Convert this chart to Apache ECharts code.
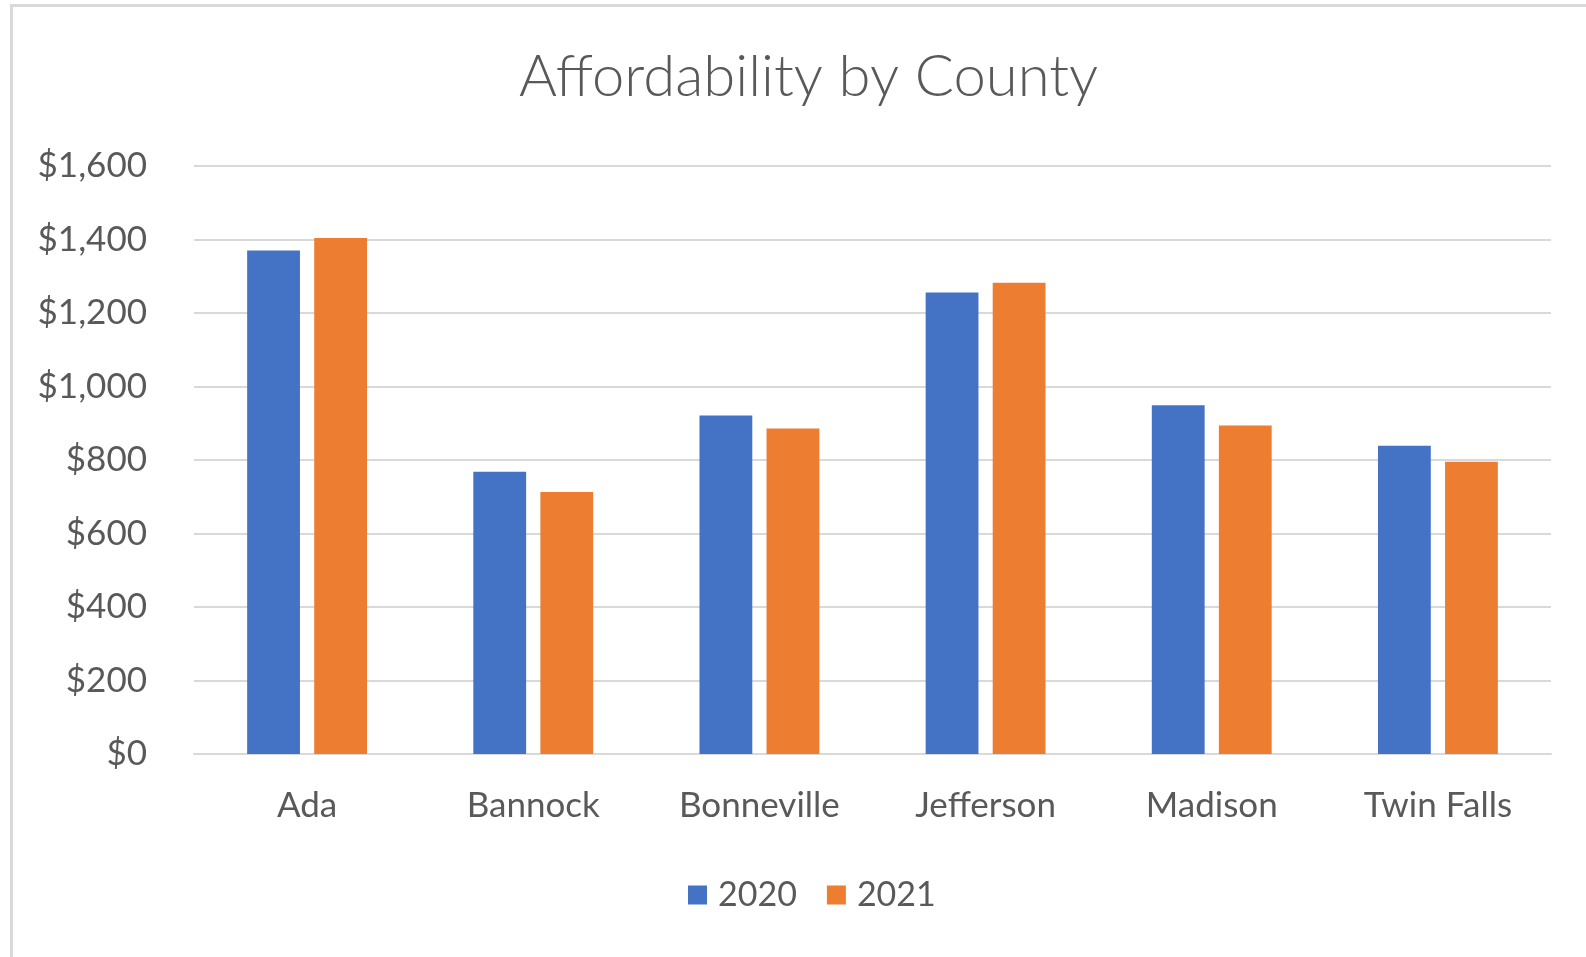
<!DOCTYPE html>
<html>
<head>
<meta charset="utf-8">
<script src="https://cdn.jsdelivr.net/npm/echarts@6/dist/echarts.min.js"></script>
<style>
html,body{margin:0;padding:0;background:#fff;}
#c{width:1586px;height:957px;}
</style>
</head>
<body>
<div id="c"></div>
<script>
const counties = ['Ada', 'Bannock', 'Bonneville', 'Jefferson', 'Madison', 'Twin Falls'];
const values2020 = [1370, 768, 921, 1256, 949, 839];
const values2021 = [1404, 713, 886, 1282, 894, 795];
const seriesNames = ['2020', '2021'];
const yTicks = [0, 200, 400, 600, 800, 1000, 1200, 1400, 1600];

const FONT = 'Lato';
const chart = echarts.init(document.getElementById('c'));
chart.setOption({
  animation: false,
  backgroundColor: '#fff',
  graphic: [{
    type: 'rect', left: 9, top: 3,
    shape: {width: 1600, height: 1000},
    style: {fill: 'none', stroke: '#d9d9d9', lineWidth: 3},
    silent: true
  }],
  title: {
    text: 'Affordability by County',
    left: 514, top: 43,
    textStyle: {fontFamily: FONT, fontSize: 58, fontWeight: 300, color: '#595959'}
  },
  legend: {
    data: seriesNames,
    left: 683, top: 873,
    icon: 'rect', itemWidth: 19, itemHeight: 19, itemGap: 30,
    textStyle: {fontFamily: FONT, fontSize: 34, color: '#595959', padding: [0, 0, 0, 6]}
  },
  grid: {left: 194, right: 35, top: 166, bottom: 203, containLabel: false},
  xAxis: {
    type: 'category', data: counties,
    axisLine: {lineStyle: {color: '#d9d9d9', width: 2}},
    axisTick: {show: false},
    axisLabel: {fontFamily: FONT, fontSize: 35, color: '#595959', margin: 34}
  },
  yAxis: {
    type: 'value', min: yTicks[0], max: yTicks[yTicks.length - 1], interval: 200,
    axisLine: {show: false}, axisTick: {show: false},
    splitLine: {lineStyle: {color: '#d9d9d9', width: 2}},
    axisLabel: {
      fontFamily: FONT, fontSize: 35, color: '#595959', margin: 47,
      formatter: v => '$' + v.toLocaleString('en-US')
    }
  },
  series: [
    {name: seriesNames[0], type: 'bar', data: values2020, itemStyle: {color: '#4472C4'}, barGap: '27%', barCategoryGap: '47%'},
    {name: seriesNames[1], type: 'bar', data: values2021, itemStyle: {color: '#ED7D31'}, barGap: '27%', barCategoryGap: '47%'}
  ]
});
</script>
</body>
</html>
